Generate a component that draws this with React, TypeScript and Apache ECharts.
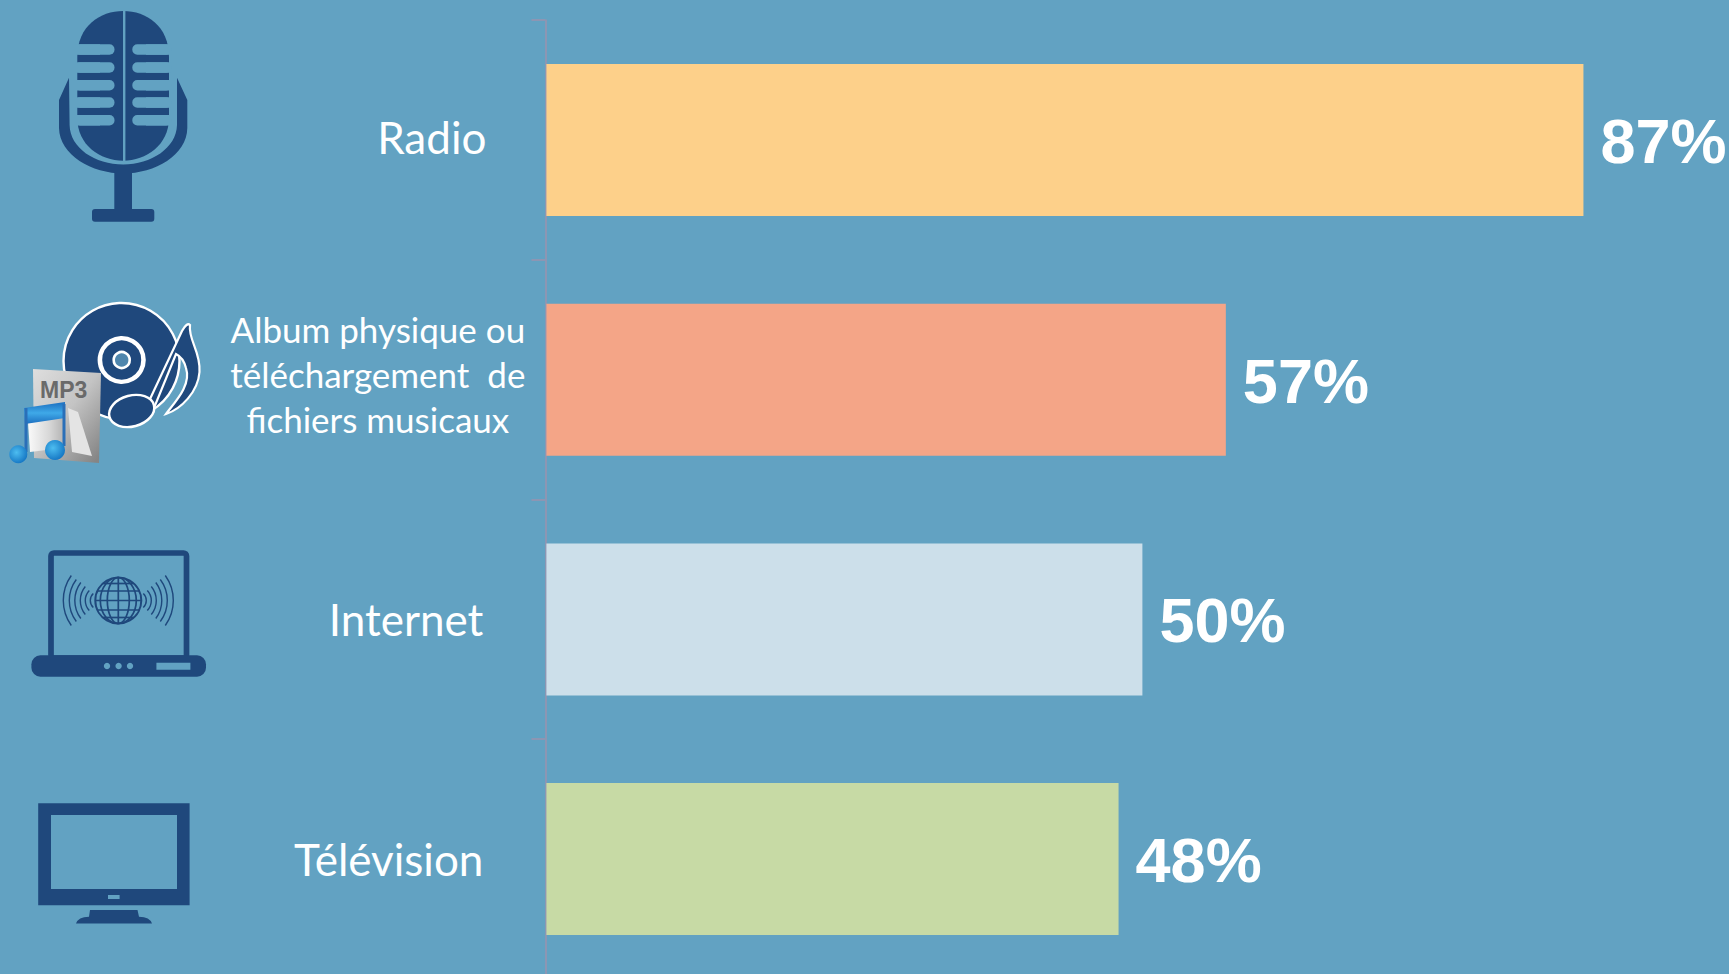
import React, { useEffect, useRef } from "react";
import * as echarts from "echarts";

// Share of listeners reached by each medium, in percent
const categories = ["Radio", "Album physique ou\ntéléchargement  de\nfichiers musicaux", "Internet", "Télévision"];
const shares = [87, 57, 50, 48];
const barColors = ["#FDD08A", "#F4A587", "#CCDFEA", "#C7DAA5"];

const BG = "#62A2C2";
const NAVY = "#1F487C";
const AXIS = "#8C96B3";

// Hand-drawn outlines for the pictograms beside each row
echarts.graphic.registerShape(
  "micBody",
  echarts.graphic.extendPath(
    "M77.3 57 C77.3 26 100 11 123.2 11 C146.5 11 169 26 169 57 L169 118 C169 145 146 160.7 123.2 160.7 C100 160.7 77.3 145 77.3 118 Z",
    {}
  )
);
echarts.graphic.registerShape(
  "micCradle",
  echarts.graphic.extendPath(
    "M69 77.7 L69.6 125 C70 148 95 164.5 123.3 164.5 C151 164.5 176.5 148 177 125 L177 77.7 L187.3 100 L187.3 128 C187 155 155 173.5 123.3 173.5 C92 173.5 59.5 155 59 128 L59 100 Z",
    {}
  )
);
echarts.graphic.registerShape(
  "noteFlag",
  echarts.graphic.extendPath(
    "M150 399 L182 331 Q187 322 190 325 C188 340 201 352 199.5 372 C198 392 181 409 166 414 C173 404 192 386 186 368 C184 360 180 356 176 354 L154 408 Z",
    {}
  )
);
echarts.graphic.registerShape(
  "tvStand",
  echarts.graphic.extendPath(
    "M90 910 L137.5 910 L139 916.7 Q150 917 152 923.5 L76 923.5 Q78 917 89 916.7 Z",
    {}
  )
);

const solid = (fill: string) => ({ fill });
const rect = (x: number, y: number, width: number, height: number, fill: any, r = 0) => ({
  type: "rect",
  shape: { x, y, width, height, r },
  style: solid(fill),
  silent: true,
});

function micIcon() {
  const slotTops = [44.3, 62.3, 80, 97.3, 115];
  const slots = slotTops.flatMap((y) => [
    rect(75, y, 39.5, 10.5, BG, 5),
    rect(75, y, 25, 10.5, BG),
    rect(132.3, y, 39, 10.5, BG, 5),
    rect(146, y, 25, 10.5, BG),
  ]);
  return [
    { type: "micCradle", x: 0, y: 0, style: solid(NAVY), silent: true },
    { type: "micBody", x: 0, y: 0, style: solid(NAVY), silent: true },
    ...slots,
    rect(123, 10, 2.4, 151, BG),
    rect(114.3, 172, 17.7, 38, NAVY),
    rect(92, 209, 62.3, 12.7, NAVY, 3),
  ];
}

function discIcon() {
  const blueHead = {
    type: "radial",
    x: 0.4,
    y: 0.4,
    r: 0.7,
    colorStops: [
      { offset: 0, color: "#4DBDF0" },
      { offset: 1, color: "#0F6FBF" },
    ],
  };
  return [
    { type: "circle", shape: { cx: 121.5, cy: 361, r: 58 }, style: { fill: NAVY, stroke: "#fff", lineWidth: 2.4 }, silent: true },
    { type: "circle", shape: { cx: 121.7, cy: 360, r: 21.8 }, style: { fill: NAVY, stroke: "#fff", lineWidth: 4.6 }, silent: true },
    { type: "circle", shape: { cx: 121.7, cy: 360, r: 8 }, style: { fill: "#4F86AD", stroke: "#fff", lineWidth: 2.6 }, silent: true },
    { type: "noteFlag", x: 0, y: 0, style: { fill: NAVY, stroke: "#fff", lineWidth: 2.2 }, silent: true },
    { type: "ellipse", x: 131.7, y: 411, rotation: 0.26, shape: { cx: 0, cy: 0, rx: 23, ry: 15.5 }, style: { fill: NAVY, stroke: "#fff", lineWidth: 2.4 }, silent: true },
    // MP3 file sheet with the blue music note in front of it
    {
      type: "polygon",
      shape: { points: [[33, 369], [101, 373], [99, 463], [34, 458]] },
      style: {
        fill: {
          type: "linear",
          x: 0,
          y: 0,
          x2: 0.9,
          y2: 1,
          colorStops: [
            { offset: 0, color: "#DEDEDE" },
            { offset: 0.5, color: "#C4C4C4" },
            { offset: 1, color: "#858585" },
          ],
        },
      },
      silent: true,
    },
    { type: "polygon", shape: { points: [[68, 408], [78, 412], [92, 456], [72, 452]] }, style: solid("#E4E4E4"), silent: true },
    {
      type: "polygon",
      shape: { points: [[28, 422], [63, 418], [63, 448], [30, 452]] },
      style: {
        fill: {
          type: "linear",
          x: 0,
          y: 0,
          x2: 1,
          y2: 0,
          colorStops: [
            { offset: 0, color: "#FAFAFA" },
            { offset: 0.6, color: "#D8D8D8" },
            { offset: 1, color: "#B5B5B5" },
          ],
        },
      },
      silent: true,
    },
    { type: "text", x: 40, y: 378, style: { text: "MP3", font: "bold 23px 'Liberation Sans'", fill: "#6A6A6A" }, silent: true },
    {
      type: "polygon",
      shape: { points: [[24, 408], [65, 402], [65, 418], [25, 424]] },
      style: {
        fill: {
          type: "linear",
          x: 0,
          y: 0,
          x2: 0,
          y2: 1,
          colorStops: [
            { offset: 0, color: "#1C6FC0" },
            { offset: 0.5, color: "#3FA9E8" },
            { offset: 1, color: "#1C6FC0" },
          ],
        },
      },
      silent: true,
    },
    rect(24.5, 408, 3, 44, "#2A6FB8"),
    rect(62.5, 404, 3, 42, "#2A6FB8"),
    { type: "circle", shape: { cx: 18.3, cy: 454.3, r: 9 }, style: { fill: blueHead }, silent: true },
    { type: "circle", shape: { cx: 55, cy: 450, r: 10 }, style: { fill: blueHead }, silent: true },
  ];
}

// One sound wave beside the globe: dir is +1 for the right side, -1 for the left
function wave(x: number, half: number, sag: number, dir: number) {
  const radius = (half * half + sag * sag) / (2 * sag);
  const angle = Math.asin(half / radius);
  const cx = x - dir * radius;
  const mid = dir > 0 ? 0 : Math.PI;
  return {
    type: "arc",
    shape: { cx, cy: 600.5, r: radius, startAngle: mid - angle, endAngle: mid + angle, clockwise: true },
    style: { fill: "none", stroke: NAVY, lineWidth: 1.4 },
    silent: true,
  };
}

function laptopIcon() {
  const waves: [number, number, number][] = [
    [28, 7, 3],
    [33, 10, 4],
    [38, 14, 5],
    [43.5, 18, 6],
    [49, 21, 7],
    [55, 25, 8],
  ];
  const line = { fill: "none", stroke: NAVY, lineWidth: 1.7 };
  const lat = (y: number, half: number) => ({ type: "line", shape: { x1: 118.3 - half, y1: y, x2: 118.3 + half, y2: y }, style: line, silent: true });
  return [
    { type: "rect", shape: { x: 51, y: 553, width: 135.5, height: 105, r: 3 }, style: { fill: "none", stroke: NAVY, lineWidth: 5.7 }, silent: true },
    rect(31.4, 655.3, 174.6, 21.4, NAVY, 9),
    { type: "circle", shape: { cx: 107, cy: 666, r: 3.2 }, style: solid(BG), silent: true },
    { type: "circle", shape: { cx: 118.6, cy: 666, r: 3.2 }, style: solid(BG), silent: true },
    { type: "circle", shape: { cx: 130, cy: 666, r: 3.2 }, style: solid(BG), silent: true },
    rect(156.4, 662.7, 34, 7, BG),
    ...waves.map(([d, h, s]) => wave(118.3 + d, h, s, 1)),
    ...waves.map(([d, h, s]) => wave(118.3 - d, h, s, -1)),
    { type: "circle", shape: { cx: 118.3, cy: 600.5, r: 23 }, style: { fill: "none", stroke: NAVY, lineWidth: 2 }, silent: true },
    { type: "ellipse", shape: { cx: 118.3, cy: 600.5, rx: 11, ry: 23 }, style: line, silent: true },
    { type: "ellipse", shape: { cx: 118.3, cy: 600.5, rx: 18, ry: 23 }, style: line, silent: true },
    { type: "line", shape: { x1: 118.3, y1: 577.5, x2: 118.3, y2: 623.5 }, style: line, silent: true },
    lat(600.5, 23),
    lat(591, 21),
    lat(610, 21),
    lat(583.5, 15),
    lat(617.5, 15),
  ];
}

function tvIcon() {
  return [
    rect(38.2, 803.3, 151.4, 102, NAVY),
    rect(51, 815, 126, 74, BG),
    rect(108, 895, 11.6, 4, BG),
    { type: "tvStand", x: 0, y: 0, style: solid(NAVY), silent: true },
  ];
}

const LABEL_FONT = "Lato";

export default function App() {
  const ref = useRef<HTMLDivElement>(null);

  useEffect(() => {
    document.body.style.margin = "0";
    document.body.style.overflow = "hidden";
    const chart = echarts.init(ref.current!, null, { renderer: "svg" });
    chart.setOption({
      animation: false,
      backgroundColor: BG,
      grid: { left: 546.4, top: 20.2, width: 1192, height: 958.7, containLabel: false, outerBoundsMode: "none" },
      xAxis: { type: "value", min: 0, max: 100, show: false },
      yAxis: {
        type: "category",
        inverse: true,
        data: categories,
        offset: 1,
        axisLine: { show: true, onZero: false, lineStyle: { color: AXIS, width: 2 } },
        axisTick: { show: true, length: 14, alignWithLabel: false, lineStyle: { color: AXIS, width: 2 } },
        axisLabel: {
          interval: 0,
          margin: 20,
          // The spacer line under the three-line label lifts it a little above the band centre
          formatter: (value: string) =>
            value.includes("\n")
              ? value.split("\n").map((line) => `{small|${line}}`).join("\n") + "\n{spacer| }"
              : value === "Radio"
                ? `{radio|${value}}`
                : `{big|${value}}`,
          rich: {
            small: { fontFamily: LABEL_FONT, fontSize: 35, lineHeight: 45, color: "#fff", align: "center" },
            spacer: { fontSize: 8, lineHeight: 11, color: "transparent" },
            radio: { fontFamily: LABEL_FONT, fontSize: 44, lineHeight: 50, color: "#fff", padding: [0, 39, 6, 0] },
            big: { fontFamily: LABEL_FONT, fontSize: 44, lineHeight: 50, color: "#fff", padding: [0, 42, 0, 0] },
          },
        },
      },
      series: [
        {
          type: "bar",
          barWidth: 152,
          data: shares.map((value, i) => ({ value, itemStyle: { color: barColors[i] } })),
          label: {
            show: true,
            position: "right",
            distance: 17,
            offset: [0, 1],
            formatter: "{c}%",
            color: "#fff",
            fontFamily: "'Liberation Sans'",
            fontWeight: "bold",
            fontSize: 63,
          },
        },
      ],
      graphic: { elements: [...micIcon(), ...discIcon(), ...laptopIcon(), ...tvIcon()] },
    });
    return () => chart.dispose();
  }, []);

  return <div ref={ref} style={{ width: 1729, height: 974 }} />;
}
